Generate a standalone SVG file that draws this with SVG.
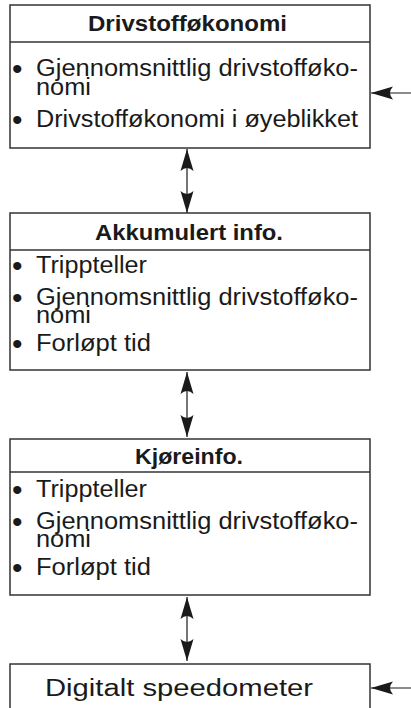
<svg xmlns="http://www.w3.org/2000/svg" width="411" height="708" viewBox="0 0 411 708">
<style>
.box{fill:#fff;stroke:#333;stroke-width:1.5}
.div{stroke:#333;stroke-width:1.5}
.t{font-family:"Liberation Sans",Arial,sans-serif;font-size:23px;fill:#1a1a1a}
.b{font-family:"Liberation Sans",Arial,sans-serif;font-size:30px;fill:#1a1a1a}
.h{font-family:"Liberation Sans",Arial,sans-serif;font-size:22px;font-weight:bold;fill:#1a1a1a}
.c{stroke:#1a1a1a;stroke-width:1.2;fill:none}
</style>
<defs>
<marker id="ah" viewBox="0 -7 22 14" refX="22" refY="0" markerWidth="22" markerHeight="14" markerUnits="userSpaceOnUse" orient="auto-start-reverse">
<path d="M0,-6.5 Q6,0 0,6.5 L22,0 Z" fill="#1a1a1a"/>
</marker>
</defs>
<rect width="411" height="708" fill="#fff"/>
<g id="connectors">
<line class="c" x1="187" y1="149" x2="187" y2="213" marker-start="url(#ah)" marker-end="url(#ah)"/>
<line class="c" x1="187" y1="372" x2="187" y2="437" marker-start="url(#ah)" marker-end="url(#ah)"/>
<line class="c" x1="187" y1="597" x2="187" y2="661" marker-start="url(#ah)" marker-end="url(#ah)"/>
<line class="c" x1="411" y1="93" x2="371" y2="93" marker-end="url(#ah)"/>
<line class="c" x1="411" y1="688" x2="371" y2="688" marker-end="url(#ah)"/>
</g>
<g id="drivstoff">
<rect class="box" x="10" y="5" width="360" height="143"/>
<line class="div" x1="10" y1="42" x2="370" y2="42"/>
<text class="h" x="88" y="31" textLength="199" lengthAdjust="spacingAndGlyphs">Drivstofføkonomi</text>
<text class="b" x="12" y="79">•</text>
<text class="t" x="36" y="76" textLength="322" lengthAdjust="spacingAndGlyphs">Gjennomsnittlig drivstofføko-</text>
<text class="t" x="36" y="95" textLength="55" lengthAdjust="spacingAndGlyphs">nomi</text>
<text class="b" x="12" y="130">•</text>
<text class="t" x="36" y="127" textLength="322" lengthAdjust="spacingAndGlyphs">Drivstofføkonomi i øyeblikket</text>
</g>
<g id="akkumulert">
<rect class="box" x="10" y="213" width="360" height="157"/>
<line class="div" x1="10" y1="250" x2="370" y2="250"/>
<text class="h" x="95" y="240" textLength="188" lengthAdjust="spacingAndGlyphs">Akkumulert info.</text>
<text class="b" x="12" y="276">•</text>
<text class="t" x="36" y="273" textLength="111" lengthAdjust="spacingAndGlyphs">Trippteller</text>
<text class="b" x="12" y="308">•</text>
<text class="t" x="36" y="305" textLength="322" lengthAdjust="spacingAndGlyphs">Gjennomsnittlig drivstofføko-</text>
<text class="t" x="36" y="323" textLength="55" lengthAdjust="spacingAndGlyphs">nomi</text>
<text class="b" x="12" y="354">•</text>
<text class="t" x="36" y="351" textLength="115" lengthAdjust="spacingAndGlyphs">Forløpt tid</text>
</g>
<g id="kjoreinfo">
<rect class="box" x="10" y="439" width="360" height="156"/>
<line class="div" x1="10" y1="472" x2="370" y2="472"/>
<text class="h" x="135" y="464" textLength="108" lengthAdjust="spacingAndGlyphs">Kjøreinfo.</text>
<text class="b" x="12" y="500">•</text>
<text class="t" x="36" y="497" textLength="111" lengthAdjust="spacingAndGlyphs">Trippteller</text>
<text class="b" x="12" y="532">•</text>
<text class="t" x="36" y="529" textLength="322" lengthAdjust="spacingAndGlyphs">Gjennomsnittlig drivstofføko-</text>
<text class="t" x="36" y="547" textLength="55" lengthAdjust="spacingAndGlyphs">nomi</text>
<text class="b" x="12" y="578">•</text>
<text class="t" x="36" y="575" textLength="115" lengthAdjust="spacingAndGlyphs">Forløpt tid</text>
</g>
<g id="speedometer">
<rect class="box" x="10" y="664" width="360" height="50"/>
<text class="t" x="45" y="696" textLength="268" lengthAdjust="spacingAndGlyphs">Digitalt speedometer</text>
</g>
</svg>
